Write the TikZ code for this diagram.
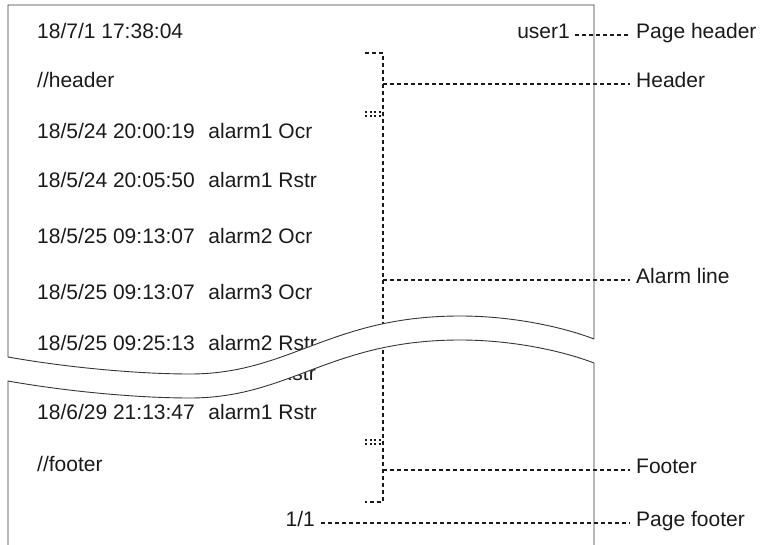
\documentclass[tikz,border=0pt]{standalone}
\usepackage{fontspec}
\setmainfont{Liberation Sans}
\usetikzlibrary{positioning, calc}
\definecolor{paperedge}{HTML}{3A3333}
\definecolor{ink}{HTML}{1A1A1A}
\newcommand{\colgap}{\hspace{0.65em}}
\tikzset{
  txt/.style={inner sep=0pt, text height=0.72em, text depth=0pt, text=ink,
              font=\fontsize{21}{25}\selectfont},
  logline/.style={txt, anchor=west},
  lbl/.style={txt, anchor=west},
  paper/.style={draw=paperedge, line width=0.9pt},
  leader/.style={draw=ink, line width=1.2pt, dash pattern=on 4pt off 3pt},
  tick/.style={draw=ink, line width=1.2pt, dash pattern=on 2pt off 2.5pt},
}

\begin{document}
\begin{tikzpicture}[x=1pt, y=-1pt]
\useasboundingbox (0,0) rectangle (760,545);

%% ====================  LOG LINES  ====================

\node[logline] (date)  at (37,35)  {18/7/1 17:38:04};
\node[txt, anchor=east] (user) at (570,35) {user1};
\node[logline] (hline) at (37,84)  {//header};
\node[logline] (al1)   at (37,135) {18/5/24 20:00:19\colgap alarm1 Ocr};
\node[logline] (al2)   at (37,184) {18/5/24 20:05:50\colgap alarm1 Rstr};
\node[logline] (al3)   at (37,240) {18/5/25 09:13:07\colgap alarm2 Ocr};
\node[logline] (al4)   at (37,296) {18/5/25 09:13:07\colgap alarm3 Ocr};
\node[logline] (al5)   at (37,347) {18/5/25 09:25:13\colgap alarm2 Rstr};
\node[txt, anchor=east] (frag) at (316,377) {Rstr};
\node[logline] (al6)   at (37,416) {18/6/29 21:13:47\colgap alarm1 Rstr};
\node[logline] (fline) at (37,468) {//footer};
\node[txt, anchor=east] (pgnum) at (315,523) {1/1};

%% ====================  BRACKET  ====================

\coordinate (brTopL) at (365,53);
\coordinate (brTop)  at (383,53);
\coordinate (brBot)  at (383,502);
\coordinate (brBotL) at (365,502);
\coordinate (brHdr)   at (383,84);
\coordinate (brAlarm) at (383,280);
\coordinate (brFtr)   at (383,470);

\draw[leader] (brTopL) -- (brTop) -- (brBot) -- (brBotL);
\draw[tick] (365,112) -- (383,112);
\draw[tick] (365,116) -- (383,116);
\draw[tick] (365,440) -- (383,440);
\draw[tick] (365,444) -- (383,444);

%% ====================  LABELS  ====================

\node[lbl] (pghdr) at (636,35)  {Page header};
\node[lbl] (hdr)   at (636,84)  {Header};
\node[lbl] (alarm) at (636,280) {Alarm line};
\node[lbl] (ftr)   at (636,470) {Footer};
\node[lbl] (pgftr) at (636,523) {Page footer};

\draw[leader] ([xshift=5pt]user.east)  -- ([xshift=-6pt]pghdr.west);
\draw[leader] (brHdr)   -- ([xshift=-6pt]hdr.west);
\draw[leader] (brAlarm) -- ([xshift=-6pt]alarm.west);
\draw[leader] (brFtr)   -- ([xshift=-6pt]ftr.west);
\draw[leader] ([xshift=6pt]pgnum.east) -- ([xshift=-6pt]pgftr.west);

%% ====================  TORN PAPER  ====================

\fill[white] (8,357) .. controls (70,368) and (140,374) .. (190,374)
  .. controls (290,374) and (330,316) .. (460,316)
  .. controls (510,316) and (560,326) .. (594,339)
  -- (594,363) .. controls (560,350) and (510,340) .. (460,340)
  .. controls (330,340) and (290,398) .. (190,398)
  .. controls (140,398) and (70,392) .. (8,381) -- cycle;

% upper piece
\draw[paper] (594,339) -- (594,5) -- (8,5) -- (8,357)
  .. controls (70,368) and (140,374) .. (190,374)
  .. controls (290,374) and (330,316) .. (460,316)
  .. controls (510,316) and (560,326) .. (594,339);

% lower piece
\draw[paper] (8,545) -- (8,381)
  .. controls (70,392) and (140,398) .. (190,398)
  .. controls (290,398) and (330,340) .. (460,340)
  .. controls (510,340) and (560,350) .. (594,363) -- (594,545);

\end{tikzpicture}
\end{document}
